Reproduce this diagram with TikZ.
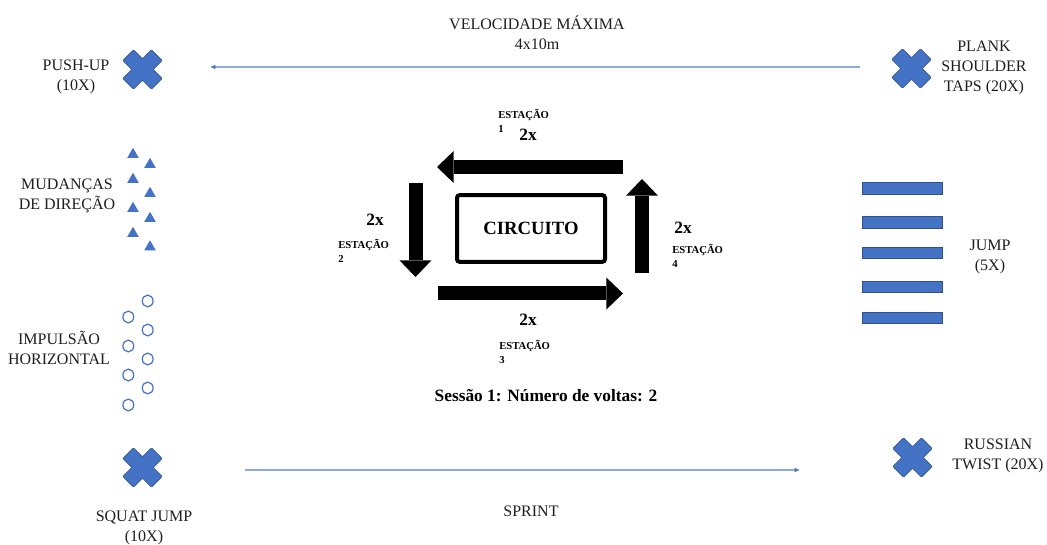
\documentclass[tikz,border=0pt]{standalone}
\usepackage{fontspec}
\setmainfont{Liberation Serif}
\usepackage{xcolor}
\definecolor{xblue}{RGB}{68,114,196}
\definecolor{xedge}{RGB}{47,82,143}
\definecolor{xline}{RGB}{143,170,220}
\definecolor{txtgray}{RGB}{30,30,30}
\usetikzlibrary{shapes.geometric,arrows.meta,positioning}
\tikzset{
  xcross/.pic={
    \draw[xedge, fill=xblue, line width=0.5pt, rounded corners=0.6pt, rotate=45]
      (-7.6,-7.6) -- (-7.6,-20.2) -- (7.6,-20.2) -- (7.6,-7.6) -- (20.2,-7.6) -- (20.2,7.6)
      -- (7.6,7.6) -- (7.6,20.2) -- (-7.6,20.2) -- (-7.6,7.6) -- (-20.2,7.6) -- (-20.2,-7.6) -- cycle;
  }
}

\begin{document}
\begin{tikzpicture}[x=0.75pt, y=-0.75pt,
  lbl/.style={font=\fontsize{12}{15}\selectfont, align=center, text=txtgray, inner sep=0pt},
  twox/.style={font=\fontsize{13}{15}\selectfont\bfseries, inner sep=0pt},
  stn/.style={font=\fontsize{8}{10}\selectfont\bfseries, align=left, anchor=west, inner sep=0pt},
  blk/.style={line width=10.5pt, -{Triangle[length=12.5pt, width=24pt, line width=0pt]}},
  tri/.style={regular polygon, regular polygon sides=3, fill=xblue, inner sep=0pt, minimum size=10pt},
  ring/.style={ellipse, draw=xblue, line width=0.9pt, minimum width=8.1pt, minimum height=8.8pt, inner sep=0pt},
  bar/.style={rectangle, fill=xblue, draw=xedge, line width=0.3pt, minimum width=60pt, minimum height=8.6pt, inner sep=0pt},
  run/.style={xline, line width=0.9pt}
]
  \useasboundingbox (0,0) rectangle (1047,545);

  % corner exercises
  \pic (pushx) at (142.5,69.5) {xcross};
  \pic (plankx) at (911.5,68.5) {xcross};
  \pic (squatx) at (142.5,467.5) {xcross};
  \pic (russx) at (912.5,457.5) {xcross};
  \node[lbl] (push) at (76,77) {PUSH-UP\\(10X)};
  \node[lbl] (plank) at (984,68) {PLANK\\SHOULDER\\TAPS (20X)};
  \node[lbl] (squat) at (144,528) {SQUAT JUMP\\(10X)};
  \node[lbl] (russ) at (998,456) {RUSSIAN\\TWIST (20X)};

  % runs
  \node[lbl] (vel) at (537,33) {VELOCIDADE MÁXIMA\\4x10m};
  \node[lbl] (sprint) at (531,511) {SPRINT};
  \coordinate (velA) at (860,67);
  \coordinate (velB) at (210,67);
  \coordinate (sprA) at (245,470);
  \coordinate (sprB) at (800,470);
  \draw[run, -{Latex[length=4pt, width=3.5pt, color=xblue]}] (velA) -- (velB);
  \draw[run, -{Latex[length=4pt, width=3.5pt, color=xblue]}] (sprA) -- (sprB);

  % cones
  \node[lbl] (mud) at (67,196) {MUDANÇAS\\DE DIREÇÃO};
  \node[tri] (c1) at (133,154.5) {};
  \node[tri] (c2) at (133,179.5) {};
  \node[tri] (c3) at (133,208.5) {};
  \node[tri] (c4) at (133,233.5) {};
  \node[tri] (c5) at (150,164.5) {};
  \node[tri] (c6) at (150,193.5) {};
  \node[tri] (c7) at (150,218.5) {};
  \node[tri] (c8) at (150,247) {};

  % rings
  \node[lbl] (imp) at (59,348) {IMPULSÃO\\HORIZONTAL};
  \node[ring] (h1) at (147.7,301) {};
  \node[ring] (h2) at (147.7,330) {};
  \node[ring] (h3) at (147.7,359) {};
  \node[ring] (h4) at (147.7,388) {};
  \node[ring] (h5) at (128.3,317) {};
  \node[ring] (h6) at (128.3,346) {};
  \node[ring] (h7) at (128.3,375) {};
  \node[ring] (h8) at (128.3,405) {};

  % hurdles
  \node[lbl] (jump) at (990,257) {JUMP\\(5X)};
  \node[bar] (j1) at (902,188) {};
  \node[bar] (j2) at (902,222) {};
  \node[bar] (j3) at (902,252.5) {};
  \node[bar] (j4) at (902,286.5) {};
  \node[bar] (j5) at (902,317.5) {};

  % circuit
  \node[draw, line width=3pt, rounded corners=2pt, minimum width=111pt, minimum height=50pt,
        font=\fontsize{14}{16}\selectfont\bfseries] (circ) at (531,228.5) {CIRCUITO};
  \coordinate (t1) at (623,167);
  \coordinate (t2) at (437,167);
  \coordinate (l1) at (415.5,183);
  \coordinate (l2) at (415.5,277);
  \coordinate (b1) at (438,293.5);
  \coordinate (b2) at (623,293.5);
  \coordinate (r1) at (642,273);
  \coordinate (r2) at (642,179);
  \draw[blk] (t1) -- (t2);
  \draw[blk] (l1) -- (l2);
  \draw[blk] (b1) -- (b2);
  \draw[blk] (r1) -- (r2);
  \node[twox] (n1) at (528,135) {2x};
  \node[stn] (s1) at (498,121) {ESTAÇÃO\\1};
  \node[twox] (n2) at (375,220) {2x};
  \node[stn] (s2) at (338,251) {ESTAÇÃO\\2};
  \node[twox] (n3) at (528,320) {2x};
  \node[stn] (s3) at (499,352) {ESTAÇÃO\\3};
  \node[twox] (n4) at (683,227.5) {2x};
  \node[stn] (s4) at (672,256) {ESTAÇÃO\\4};
  \node[font=\fontsize{13}{15}\selectfont\bfseries] (sess) at (546,396) {Sessão 1: Número de voltas: 2};
\end{tikzpicture}
\end{document}
